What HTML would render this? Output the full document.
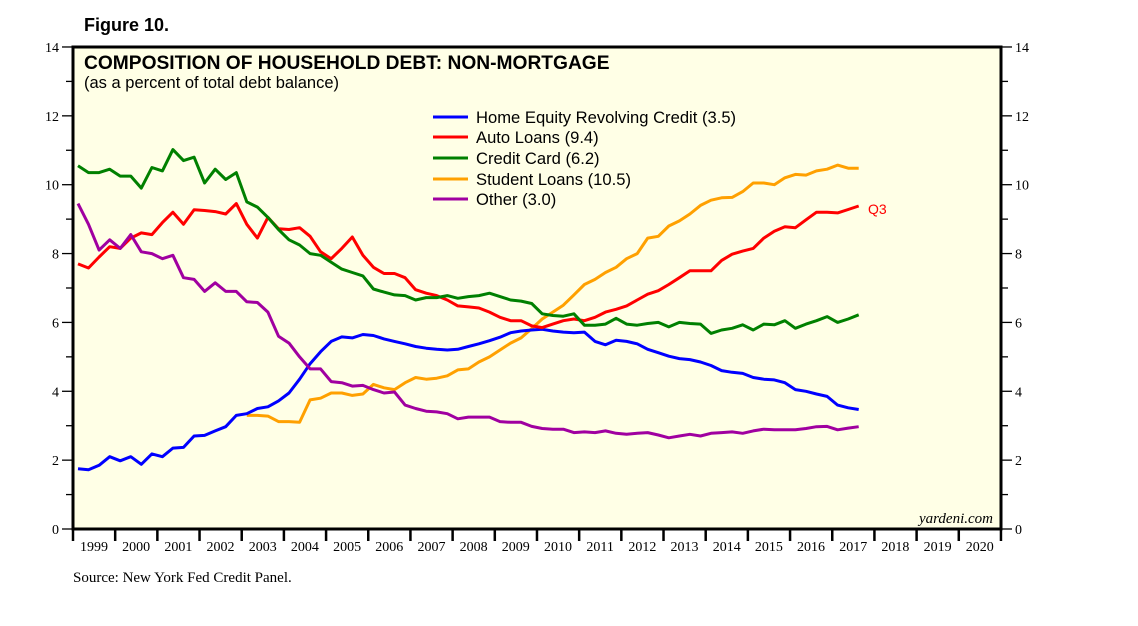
<!DOCTYPE html>
<html><head><meta charset="utf-8"><style>
body{margin:0;background:#fff;}
svg text{font-family:"Liberation Sans",sans-serif;}
</style></head><body>
<svg id="s" width="1138" height="621" xmlns="http://www.w3.org/2000/svg">
<text x="84" y="31" font-size="18" font-weight="bold">Figure 10.</text>
<rect x="73" y="47" width="928" height="482" fill="#ffffe6" stroke="#000" stroke-width="3"/>
<text x="84" y="69" font-size="19.2" font-weight="bold">COMPOSITION OF HOUSEHOLD DEBT: NON-MORTGAGE</text>
<text x="84" y="88" font-size="16.5">(as a percent of total debt balance)</text>
<g id="ax"></g>
<g id="lines" fill="none" stroke-width="3" stroke-linejoin="round"></g>
<g font-size="16.6">
<line x1="433" y1="117" x2="468" y2="117" stroke="#0000ff" stroke-width="3"/><text x="476" y="123">Home Equity Revolving Credit (3.5)</text>
<line x1="433" y1="137" x2="468" y2="137" stroke="#ff0000" stroke-width="3"/><text x="476" y="143">Auto Loans (9.4)</text>
<line x1="433" y1="158" x2="468" y2="158" stroke="#008000" stroke-width="3"/><text x="476" y="164">Credit Card (6.2)</text>
<line x1="433" y1="179" x2="468" y2="179" stroke="#ffa000" stroke-width="3"/><text x="476" y="185">Student Loans (10.5)</text>
<line x1="433" y1="199" x2="468" y2="199" stroke="#a000a0" stroke-width="3"/><text x="476" y="205">Other (3.0)</text>
</g>
<text x="868" y="214" font-size="14" fill="#ff0000">Q3</text>
<text x="993" y="523" font-size="15" font-style="italic" text-anchor="end" style="font-family:'Liberation Serif',serif">yardeni.com</text>
<text x="73" y="582" font-size="15" style="font-family:'Liberation Serif',serif">Source: New York Fed Credit Panel.</text>
</svg>
<script>
var s=document.getElementById('ax'),L=document.getElementById('lines');
function Y(v){return 529-v*34.43;}
var h='';
for(var v=0;v<=14;v++){var y=Y(v);
 var big=v%2==0;
 h+='<line x1="'+(big?62:66)+'" y1="'+y+'" x2="73" y2="'+y+'" stroke="#000" stroke-width="1.3"/>';
 h+='<line x1="1001" y1="'+y+'" x2="'+(big?1012:1008)+'" y2="'+y+'" stroke="#000" stroke-width="1.3"/>';
 if(big){h+='<text x="59" y="'+(y+5)+'" font-size="14" text-anchor="end" style="font-family:\'Liberation Serif\',serif">'+v+'</text>';
 h+='<text x="1015" y="'+(y+5)+'" font-size="14" style="font-family:\'Liberation Serif\',serif">'+v+'</text>';}
}
for(var i=0;i<=22;i++){var x=73+i*42.18;
 h+='<line x1="'+x+'" y1="529" x2="'+x+'" y2="541" stroke="#000" stroke-width="2.5"/>';
 if(i<22)h+='<text x="'+(x+21)+'" y="551" font-size="14" text-anchor="middle" style="font-family:\'Liberation Serif\',serif">'+(1999+i)+'</text>';}
s.innerHTML=h;
var D={
'#0000ff':[0,[1.75,1.72,1.85,2.1,1.98,2.1,1.88,2.18,2.1,2.35,2.37,2.7,2.72,2.85,2.97,3.3,3.35,3.5,3.55,3.72,3.95,4.35,4.8,5.15,5.45,5.58,5.55,5.65,5.62,5.52,5.45,5.38,5.3,5.25,5.22,5.2,5.22,5.3,5.38,5.47,5.57,5.7,5.75,5.78,5.8,5.75,5.72,5.7,5.72,5.45,5.35,5.48,5.45,5.38,5.22,5.12,5.02,4.95,4.92,4.85,4.75,4.6,4.55,4.52,4.4,4.35,4.33,4.25,4.05,4.0,3.92,3.85,3.6,3.52,3.47]],
'#ff0000':[0,[7.7,7.58,7.9,8.2,8.15,8.45,8.6,8.55,8.9,9.2,8.85,9.27,9.25,9.22,9.15,9.45,8.85,8.45,9.05,8.72,8.7,8.75,8.5,8.05,7.85,8.15,8.48,7.95,7.6,7.42,7.42,7.3,6.95,6.85,6.78,6.65,6.48,6.45,6.42,6.3,6.15,6.05,6.05,5.9,5.85,5.95,6.05,6.1,6.05,6.15,6.3,6.38,6.48,6.65,6.82,6.92,7.1,7.3,7.5,7.5,7.5,7.8,7.98,8.07,8.15,8.45,8.65,8.78,8.75,8.98,9.2,9.2,9.18,9.28,9.38]],
'#008000':[0,[10.55,10.35,10.35,10.45,10.25,10.25,9.9,10.5,10.4,11.02,10.7,10.8,10.05,10.45,10.15,10.35,9.5,9.35,9.05,8.7,8.4,8.25,8.0,7.95,7.75,7.55,7.45,7.35,6.97,6.88,6.8,6.78,6.65,6.72,6.72,6.78,6.7,6.75,6.78,6.85,6.75,6.65,6.62,6.55,6.25,6.2,6.18,6.25,5.92,5.92,5.95,6.12,5.95,5.92,5.97,6.0,5.87,6.0,5.97,5.95,5.68,5.78,5.83,5.93,5.78,5.95,5.93,6.05,5.83,5.95,6.05,6.17,6.0,6.1,6.22]],
'#ffa000':[16,[3.3,3.3,3.28,3.12,3.12,3.1,3.75,3.8,3.95,3.95,3.88,3.92,4.2,4.1,4.05,4.25,4.4,4.35,4.38,4.45,4.62,4.65,4.85,5.0,5.2,5.4,5.55,5.82,6.1,6.3,6.5,6.8,7.1,7.25,7.45,7.6,7.85,8.0,8.45,8.5,8.8,8.95,9.15,9.4,9.55,9.62,9.63,9.8,10.05,10.05,10.0,10.2,10.3,10.28,10.4,10.45,10.57,10.48,10.48]],
'#a000a0':[0,[9.45,8.85,8.1,8.4,8.15,8.55,8.05,8.0,7.85,7.95,7.3,7.25,6.9,7.15,6.9,6.9,6.6,6.58,6.3,5.6,5.4,5.0,4.65,4.65,4.28,4.25,4.15,4.17,4.05,3.95,3.98,3.6,3.5,3.42,3.4,3.35,3.2,3.25,3.25,3.25,3.12,3.1,3.1,2.98,2.92,2.9,2.9,2.8,2.82,2.8,2.85,2.78,2.75,2.78,2.8,2.73,2.65,2.7,2.75,2.7,2.78,2.8,2.82,2.78,2.85,2.9,2.88,2.88,2.88,2.92,2.97,2.98,2.88,2.93,2.97]]
};
var o='';
['#ffa000','#0000ff','#ff0000','#008000','#a000a0'].forEach(function(c){
 var st=D[c][0],a=D[c][1],p=[];
 for(var i=0;i<a.length;i++){p.push((78+(st+i)*10.55).toFixed(1)+','+Y(a[i]).toFixed(1));}
 o+='<polyline stroke="'+c+'" points="'+p.join(' ')+'"/>';
});
L.innerHTML=o;
</script>
</body></html>
